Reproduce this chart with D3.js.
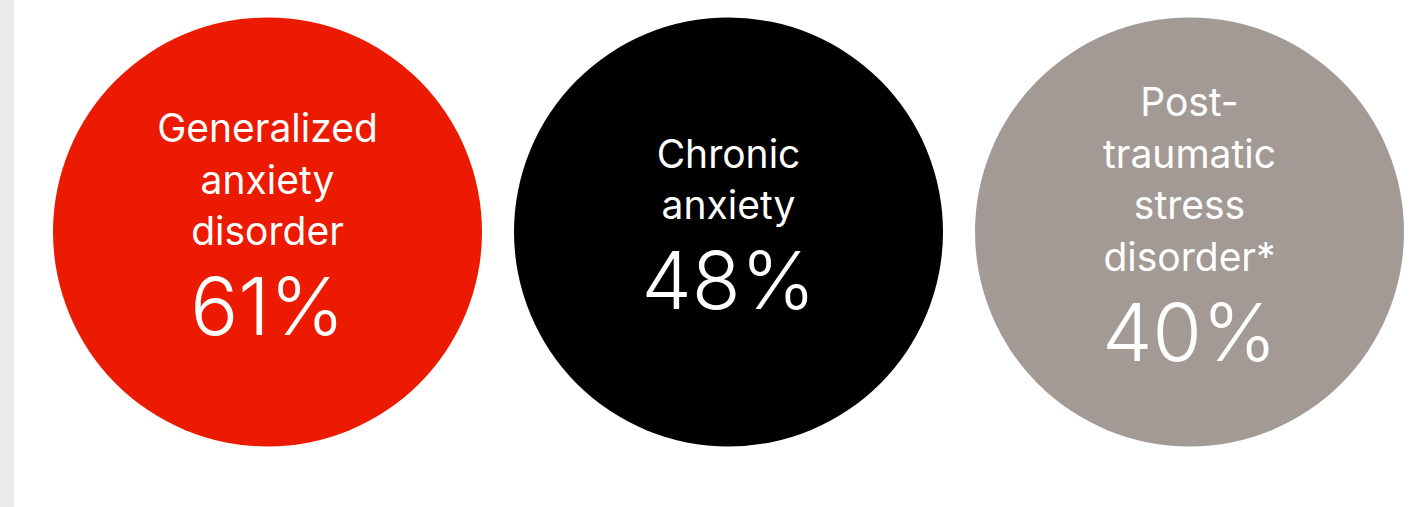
<!DOCTYPE html>
<html lang="en">
<head>
<meta charset="utf-8">
<style>
  html, body { margin: 0; padding: 0; background: #fff; }
  svg { display: block; font-family: 'Inter', sans-serif; }
</style>
</head>
<body>
<div id="my_dataviz"></div>
<script src="https://d3js.org/d3.v7.min.js"></script>
<script>
// data
var categories = ["gad", "chronic", "ptsd"];
var labels = [
  ["Generalized", "anxiety", "disorder"],
  ["Chronic", "anxiety"],
  ["Post-", "traumatic", "stress", "disorder*"]
];
var values = [61, 48, 40];
var colors = ["#ec1a00", "#000000", "#a39a95"];

var width = 1424, height = 507;
var cy = 232, r = 214.5;
var lineH = 51.5, pctGap = 90;

var svg = d3.select("#my_dataviz")
  .append("svg")
    .attr("width", width)
    .attr("height", height);

// grey strip on the left
svg.append("rect")
  .attr("x", 0).attr("y", 0)
  .attr("width", 14).attr("height", height)
  .attr("fill", "#ebebeb");

var x = d3.scaleBand()
  .domain(categories)
  .range([37, 1420])
  .padding(0);

var color = d3.scaleOrdinal().domain(categories).range(colors);

var data = categories.map(function(c, i) {
  return { key: c, lines: labels[i], value: values[i] };
});

var g = svg.selectAll("g.bubble")
  .data(data)
  .enter()
  .append("g")
    .attr("class", "bubble")
    .attr("transform", function(d) {
      return "translate(" + (x(d.key) + x.bandwidth() / 2) + "," + cy + ")";
    });

g.append("circle")
  .attr("r", r)
  .attr("fill", function(d) { return color(d.key); });

// percentage baseline sits lower the more label lines there are
g.append("text")
  .attr("class", "pct")
  .attr("text-anchor", "middle")
  .attr("y", function(d) { return lineH / 2 * (d.lines.length + 1); })
  .attr("fill", "#fff")
  .style("font-size", "80px")
  .style("font-weight", 300)
  .text(function(d) { return d.value + "%"; });

g.each(function(d) {
  var base = lineH / 2 * (d.lines.length + 1) - pctGap - lineH * (d.lines.length - 1);
  d3.select(this).selectAll("text.lbl")
    .data(d.lines)
    .enter()
    .append("text")
      .attr("class", "lbl")
      .attr("text-anchor", "middle")
      .attr("y", function(t, i) { return base + i * lineH; })
      .attr("fill", "#fff")
      .style("font-size", "39px")
      .text(function(t) { return t; });
});
</script>
</body>
</html>
